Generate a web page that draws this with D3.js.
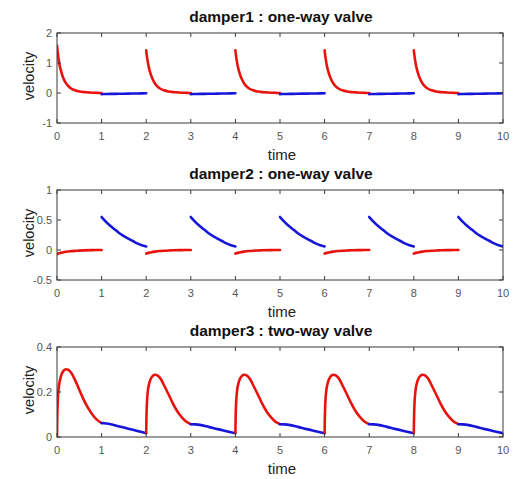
<!DOCTYPE html>
<html>
<head>
<meta charset="utf-8">
<script src="https://cdn.jsdelivr.net/npm/d3@7"></script>
<style>
  body { margin: 0; background: #fff; }
  text { font-family: "Liberation Sans", Arial, sans-serif; }
</style>
</head>
<body>
<div id="chart-area"></div>
<script>
/*
*    dampers - velocity vs time, three subplots
*/

// time offsets inside one second, red (valve) and blue parts
var sRed1 = [0, 0.02, 0.05, 0.1, 0.15, 0.2, 0.25, 0.3, 0.4, 0.5, 0.6, 0.7, 0.8, 0.9, 1.0];
var d1RedFirst = [1.58, 1.3, 1.0, 0.68, 0.47, 0.33, 0.24, 0.17, 0.09, 0.05, 0.03, 0.02, 0.01, 0.005, 0.0];
var d1Red      = [1.42, 1.18, 0.92, 0.63, 0.44, 0.31, 0.22, 0.16, 0.09, 0.05, 0.03, 0.02, 0.01, 0.005, 0.0];
var sBlue1 = [0, 0.05, 0.2, 0.4, 0.6, 0.8, 1.0];
var d1Blue = [-0.04, -0.035, -0.03, -0.025, -0.02, -0.015, -0.01];

var sRed2 = [0, 0.05, 0.1, 0.2, 0.3, 0.4, 0.5, 0.6, 0.8, 1.0];
var d2RedFirst = [-0.07, -0.055, -0.045, -0.03, -0.02, -0.014, -0.01, -0.006, -0.002, 0.0];
var d2Red      = [-0.06, -0.048, -0.04, -0.027, -0.018, -0.012, -0.008, -0.005, -0.002, 0.0];
var sBlue2 = [0, 0.1, 0.2, 0.3, 0.4, 0.5, 0.6, 0.7, 0.8, 0.9, 1.0];
var d2Blue = [0.55, 0.47, 0.40, 0.34, 0.28, 0.23, 0.19, 0.15, 0.11, 0.08, 0.06];

var sRed3 = [0, 0.005, 0.01, 0.02, 0.04, 0.07, 0.1, 0.15, 0.2, 0.25, 0.3, 0.35, 0.4, 0.45, 0.5, 0.6, 0.7, 0.8, 0.9, 1.0];
var d3RedFirst = [0, 0.08, 0.12, 0.17, 0.22, 0.255, 0.277, 0.295, 0.301, 0.299, 0.29, 0.275, 0.255, 0.233, 0.21, 0.165, 0.128, 0.098, 0.076, 0.062];
var d3Red      = [0.018, 0.08, 0.12, 0.165, 0.21, 0.24, 0.258, 0.272, 0.277, 0.274, 0.265, 0.25, 0.23, 0.21, 0.19, 0.148, 0.113, 0.087, 0.068, 0.057];
var sBlue3 = [0, 0.1, 0.2, 0.4, 0.6, 0.8, 1.0];
var d3BlueFirst = [0.062, 0.06, 0.057, 0.047, 0.037, 0.027, 0.017];
var d3Blue      = [0.057, 0.056, 0.054, 0.045, 0.035, 0.026, 0.017];

var cycleStarts = [0, 2, 4, 6, 8];
var xTicks = [0, 1, 2, 3, 4, 5, 6, 7, 8, 9, 10];

var titles = ["damper1 : one-way valve", "damper2 : one-way valve", "damper3 : two-way valve"];
var yDomains = [[-1, 2], [-0.5, 1], [0, 0.4]];
var yTicks = [[-1, 0, 1, 2], [-0.5, 0, 0.5, 1], [0, 0.2, 0.4]];

var panels = [
    { sRed: sRed1, redFirst: d1RedFirst, red: d1Red, sBlue: sBlue1, blueFirst: d1Blue, blue: d1Blue },
    { sRed: sRed2, redFirst: d2RedFirst, red: d2Red, sBlue: sBlue2, blueFirst: d2Blue, blue: d2Blue },
    { sRed: sRed3, redFirst: d3RedFirst, red: d3Red, sBlue: sBlue3, blueFirst: d3BlueFirst, blue: d3Blue }
];

var width = 515;
var height = 479;
var left = 57, right = 503;
var tops = [33, 190, 347];
var plotH = 90;

var svg = d3.select("#chart-area").append("svg")
    .attr("width", width)
    .attr("height", height);

var x = d3.scaleLinear().domain([0, 10]).range([left, right]);

var axisColor = "#3a3a3a";
var labelColor = "#555";

var line = d3.line()
    .x((d) => x(d[0]))
    .curve(d3.curveMonotoneX);

panels.forEach((p, i) => {
    var top = tops[i];
    var y = d3.scaleLinear().domain(yDomains[i]).range([top + plotH, top]);
    line.y((d) => y(d[1]));

    var g = svg.append("g");

    // title
    g.append("text")
        .attr("x", (left + right) / 2 + 1)
        .attr("y", top - 11)
        .attr("text-anchor", "middle")
        .attr("font-size", 15.5)
        .attr("font-weight", "bold")
        .attr("fill", "#111")
        .text(titles[i]);

    // curves
    var clip = "clip" + i;
    svg.append("clipPath").attr("id", clip)
        .append("rect")
        .attr("x", left).attr("y", top - 2)
        .attr("width", right - left).attr("height", plotH + 4);

    var curves = g.append("g").attr("clip-path", "url(#" + clip + ")");

    cycleStarts.forEach((c, k) => {
        var rv = k === 0 ? p.redFirst : p.red;
        var bv = k === 0 ? p.blueFirst : p.blue;
        var redPts = p.sRed.map((s, j) => [c + s, rv[j]]);
        var bluePts = p.sBlue.map((s, j) => [c + 1 + s, bv[j]]);

        curves.append("path")
            .attr("d", line(redPts))
            .attr("fill", "none")
            .attr("stroke", "#e8130c")
            .attr("stroke-width", 2.6)
            .attr("stroke-linecap", "round");

        curves.append("path")
            .attr("d", line(bluePts))
            .attr("fill", "none")
            .attr("stroke", "#1616d8")
            .attr("stroke-width", 2.6)
            .attr("stroke-linecap", "round");
    });

    // box
    g.append("rect")
        .attr("x", left)
        .attr("y", top)
        .attr("width", right - left)
        .attr("height", plotH)
        .attr("fill", "none")
        .attr("stroke", axisColor)
        .attr("stroke-width", 1);

    // x ticks (bottom and top, inward)
    xTicks.forEach((t) => {
        g.append("line")
            .attr("x1", x(t)).attr("x2", x(t))
            .attr("y1", top + plotH).attr("y2", top + plotH - 4)
            .attr("stroke", axisColor);
        g.append("line")
            .attr("x1", x(t)).attr("x2", x(t))
            .attr("y1", top).attr("y2", top + 4)
            .attr("stroke", axisColor);
        g.append("text")
            .attr("x", x(t))
            .attr("y", top + plotH + 17)
            .attr("text-anchor", "middle")
            .attr("font-size", 11)
            .attr("fill", labelColor)
            .text(t);
    });

    // y ticks (left and right, inward)
    yTicks[i].forEach((t) => {
        g.append("line")
            .attr("x1", left).attr("x2", left + 4)
            .attr("y1", y(t)).attr("y2", y(t))
            .attr("stroke", axisColor);
        g.append("line")
            .attr("x1", right).attr("x2", right - 4)
            .attr("y1", y(t)).attr("y2", y(t))
            .attr("stroke", axisColor);
        g.append("text")
            .attr("x", left - 5)
            .attr("y", y(t) + 4)
            .attr("text-anchor", "end")
            .attr("font-size", 11)
            .attr("fill", labelColor)
            .text(t);
    });

    // x label
    g.append("text")
        .attr("x", (left + right) / 2 + 2)
        .attr("y", top + plotH + 37)
        .attr("text-anchor", "middle")
        .attr("font-size", 15)
        .attr("fill", "#222")
        .text("time");

    // y label
    g.append("text")
        .attr("transform", "translate(34," + (top + plotH / 2 - 2) + ") rotate(-90)")
        .attr("text-anchor", "middle")
        .attr("font-size", 14.5)
        .attr("fill", "#222")
        .text("velocity");
});
</script>
</body>
</html>
